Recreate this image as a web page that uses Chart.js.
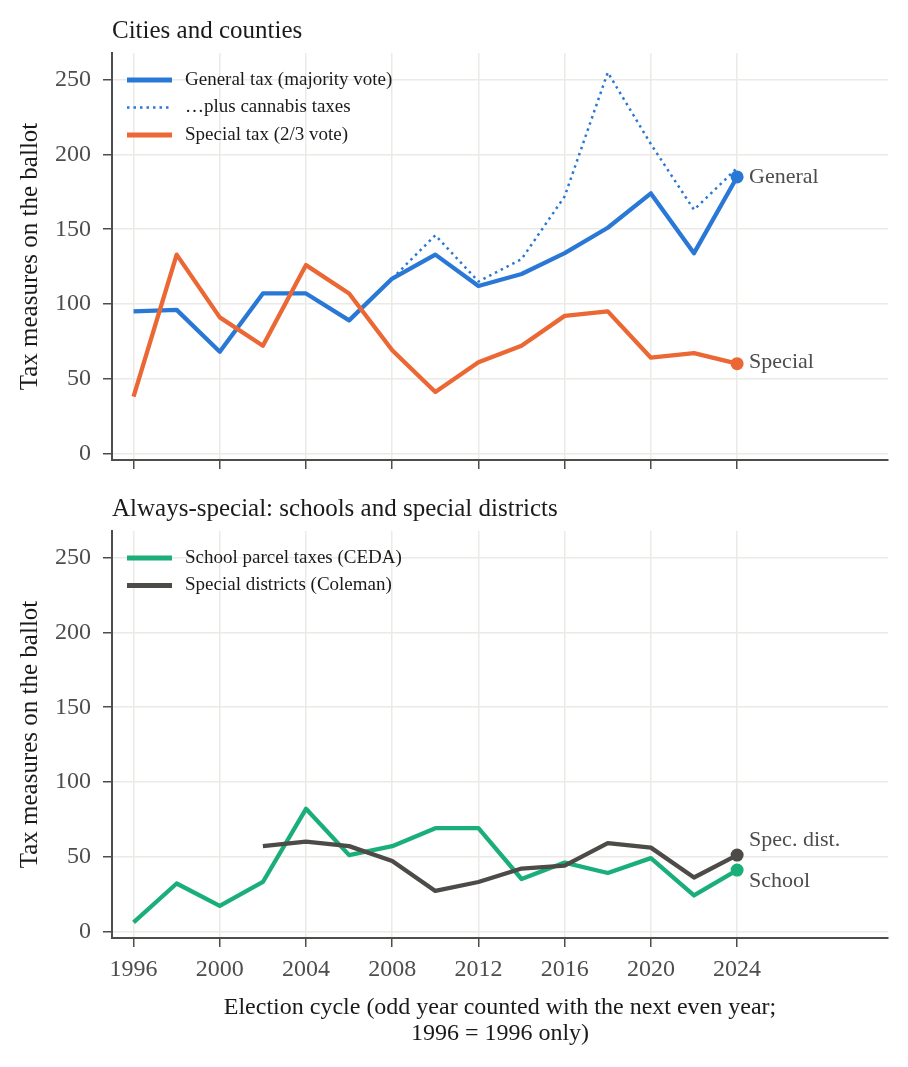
<!DOCTYPE html>
<html><head><meta charset="utf-8">
<script src="https://cdn.jsdelivr.net/npm/chart.js@4.4.1/dist/chart.umd.min.js"></script>
<style>
html,body{margin:0;padding:0;background:#fff;}
#wrap{position:relative;width:908px;height:1067px;background:#fff;}
canvas{position:absolute;left:0;}
#c1{top:0;} #c2{top:478px;}
</style></head><body>
<div id="wrap">
<canvas id="c1" width="908" height="478"></canvas>
<canvas id="c2" width="908" height="589"></canvas>
</div>
<script>
// ---- data ----
const years = [1996,1998,2000,2002,2004,2006,2008,2010,2012,2014,2016,2018,2020,2022,2024];
const generalTax = [95,96,68,107,107,89,117,133,112,120,134,151,174,134,185];
const generalPlusCannabis = [null,null,null,null,null,null,117,146,115,130,172,255,207,163,191];
const specialTax = [38,133,91,72,126,107,69,41,61,72,92,95,64,67,60];
const schoolParcel = [6,32,17,33,82,51,57,69,69,35,46,39,49,24,41];
const specialDistricts = [null,null,null,57,60,57,47,27,33,42,44,59,56,36,51];
const yTicks = [0,50,100,150,200,250];
const xTicks = [1996,2000,2004,2008,2012,2016,2020,2024];
const panelTitles = ['Cities and counties', 'Always-special: schools and special districts'];
const yTitle = 'Tax measures on the ballot';
const xTitle = ['Election cycle (odd year counted with the next even year;', '1996 = 1996 only)'];

// ---- styles ----
const FONT = "'Liberation Serif', 'Times New Roman', serif";
const GRID = '#ebeae5';
const AXIS = '#4d4d4d';
const BLUE = '#2a78d6', ORANGE = '#eb6834', GREEN = '#1aaf7a', DARK = '#4d4b48';
const LW = 4.3;

const pts = arr => years.map((x, i) => ({x, y: arr[i]}));
const lastDot = (ctx) => ctx.dataIndex === years.length - 1 ? 6.5 : 0;

const insideLegend = {
  id: 'insideLegend',
  afterDatasetsDraw(chart, args, o) {
    const {ctx, chartArea} = chart;
    ctx.save();
    ctx.font = o.fontSize + 'px ' + FONT;
    ctx.textBaseline = 'middle';
    ctx.textAlign = 'left';
    chart.data.datasets.forEach((ds, i) => {
      const y = chartArea.top + o.top + i * o.rowGap;
      const x0 = chartArea.left + o.left;
      ctx.beginPath();
      ctx.strokeStyle = ds.borderColor;
      ctx.lineWidth = ds.legendLineWidth || ds.borderWidth;
      ctx.lineCap = 'butt';
      ctx.setLineDash(ds.borderDash || []);
      ctx.moveTo(x0, y); ctx.lineTo(x0 + o.swatch, y); ctx.stroke();
      ctx.setLineDash([]);
      ctx.fillStyle = o.color;
      ctx.fillText(ds.label, x0 + o.swatch + o.gap, y);
    });
    ctx.restore();
  }
};

const endLabels = {
  id: 'endLabels',
  afterDatasetsDraw(chart, args, o) {
    const {ctx} = chart;
    ctx.save();
    ctx.font = o.fontSize + 'px ' + FONT;
    ctx.textBaseline = 'middle';
    ctx.textAlign = 'left';
    ctx.fillStyle = o.color;
    chart.data.datasets.forEach((ds, i) => {
      if (!ds.endLabel) return;
      const meta = chart.getDatasetMeta(i);
      const p = meta.data[meta.data.length - 1];
      ctx.fillText(ds.endLabel, p.x + o.dx, p.y + (ds.endLabelDy || 0));
    });
    ctx.restore();
  }
};

function makePanel(id, title, datasets, showX) {
  const canvas = document.getElementById(id);
  const H = canvas.height;
  const gridOpts = {color: GRID, lineWidth: 1.5, tickColor: AXIS, tickLength: 9, tickWidth: 1.5, drawTicks: true};
  return new Chart(canvas, {
    type: 'line',
    data: {datasets},
    options: {
      responsive: false,
      animation: false,
      events: [],
      layout: {padding: {left: 0, right: 20, top: 0, bottom: 0}},
      plugins: {
        legend: {display: false},
        tooltip: {enabled: false},
        title: {display: true, text: title, align: 'start', fullSize: false,
          font: {family: FONT, size: 25, weight: 'normal', lineHeight: 1.2}, color: '#1a1a1a',
          padding: {top: 16, bottom: 7}},
        insideLegend: {fontSize: 19, color: '#1a1a1a', left: 15, top: 27, rowGap: 27.5, swatch: 45, gap: 13},
        endLabels: {fontSize: 22, color: '#4d4d4d', dx: 12}
      },
      scales: {
        x: {
          type: 'linear', min: 1995, max: 2031,
          afterBuildTicks: s => { s.ticks = xTicks.map(v => ({value: v})); },
          ticks: {display: showX, callback: v => String(v), font: {family: FONT, size: 24}, color: '#4d4d4d',
                  padding: 8, maxRotation: 0, autoSkip: false},
          grid: gridOpts,
          border: {display: true, color: AXIS, width: 2},
          title: showX ? {display: true, text: xTitle, font: {family: FONT, size: 24, lineHeight: 1.1},
                          color: '#1a1a1a', padding: {top: 0, bottom: 20}} : {display: false},
          afterFit: s => { s.height = H - 460; s.paddingLeft = 0; s.paddingRight = 0; }
        },
        y: {
          type: 'linear', min: -4.5, max: 268,
          afterBuildTicks: s => { s.ticks = yTicks.map(v => ({value: v})); },
          ticks: {callback: v => String(v), font: {family: FONT, size: 24}, color: '#4d4d4d', padding: 12},
          grid: gridOpts,
          border: {display: true, color: AXIS, width: 2},
          title: {display: true, text: yTitle, font: {family: FONT, size: 25, lineHeight: 1.2}, color: '#1a1a1a',
                  padding: {top: 15, bottom: 0}},
          afterFit: s => { s.width = 112; s.paddingTop = 0; s.paddingBottom = 0; }
        }
      }
    },
    plugins: [insideLegend, endLabels]
  });
}

const common = {borderJoinStyle: 'round', borderCapStyle: 'butt', pointBorderWidth: 0, pointHoverRadius: 0, tension: 0, spanGaps: false};

makePanel('c1', panelTitles[0], [
  Object.assign({}, common, {label: 'General tax (majority vote)', data: pts(generalTax), borderColor: BLUE, backgroundColor: BLUE,
    borderWidth: LW, legendLineWidth: 5, pointRadius: lastDot, pointBackgroundColor: BLUE, endLabel: 'General', endLabelDy: 0, order: 3}),
  Object.assign({}, common, {label: '\u2026plus cannabis taxes', data: pts(generalPlusCannabis), borderColor: BLUE, backgroundColor: BLUE,
    borderWidth: 2.5, legendLineWidth: 2.5, borderDash: [2.5, 4], pointRadius: 0, order: 2}),
  Object.assign({}, common, {label: 'Special tax (2/3 vote)', data: pts(specialTax), borderColor: ORANGE, backgroundColor: ORANGE,
    borderWidth: LW, legendLineWidth: 5, pointRadius: lastDot, pointBackgroundColor: ORANGE, endLabel: 'Special', endLabelDy: -1, order: 1})
], false);

makePanel('c2', panelTitles[1], [
  Object.assign({}, common, {label: 'School parcel taxes (CEDA)', data: pts(schoolParcel), borderColor: GREEN, backgroundColor: GREEN,
    borderWidth: LW, legendLineWidth: 5, pointRadius: lastDot, pointBackgroundColor: GREEN, endLabel: 'School', endLabelDy: 11, order: 2}),
  Object.assign({}, common, {label: 'Special districts (Coleman)', data: pts(specialDistricts), borderColor: DARK, backgroundColor: DARK,
    borderWidth: LW, legendLineWidth: 5, pointRadius: lastDot, pointBackgroundColor: DARK, endLabel: 'Spec. dist.', endLabelDy: -15, order: 1})
], true);
</script>
</body></html>
